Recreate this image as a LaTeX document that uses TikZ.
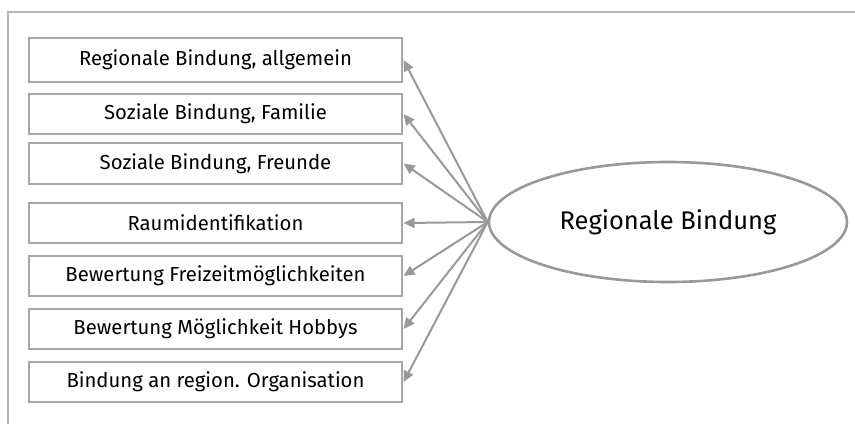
\documentclass[tikz,border=0pt]{standalone}
\usepackage{fontspec}
\setmainfont{Fira Sans}
\usetikzlibrary{arrows.meta,shapes.geometric}
\definecolor{framegray}{HTML}{B4B4B4}
\definecolor{boxgray}{HTML}{A6A6A6}
\definecolor{linkgray}{HTML}{999999}
\tikzset{
  itembox/.style={draw=boxgray, line width=1.1pt, minimum width=373pt, inner sep=0pt,
    font=\fontsize{20.3}{24}\selectfont, text=black},
  factor/.style={ellipse, draw=linkgray, line width=2.6pt, minimum width=358pt,
    minimum height=120pt, inner sep=0pt, font=\fontsize{25.5}{30}\selectfont},
  loading/.style={draw=linkgray, line width=2pt, -{Triangle[length=11pt, width=10pt]}},
}
\begin{document}
\begin{tikzpicture}[x=1pt, y=-1pt]
  \useasboundingbox (0,0) rectangle (855,424);
  % outer frame (only top and left edges fall inside the page)
  \draw[framegray, line width=1.5pt] (8,424) -- (8,12) -- (855,12);

  \node[itembox, minimum height=44pt] (b1) at (215.5,60)  {Regionale Bindung, allgemein};
  \node[itembox, minimum height=40pt] (b2) at (215.5,114) {Soziale Bindung, Familie};
  \node[itembox, minimum height=41pt] (b3) at (215.5,163.5) {Soziale Bindung, Freunde};
  \node[itembox, minimum height=40pt] (b4) at (215.5,223) {Raumidentifikation};
  \node[itembox, minimum height=40pt] (b5) at (215.5,276) {Bewertung Freizeitmöglichkeiten};
  \node[itembox, minimum height=40pt] (b6) at (215.5,329) {Bewertung Möglichkeit Hobbys};
  \node[itembox, minimum height=40pt] (b7) at (215.5,382) {Bindung an region. Organisation};

  \node[factor] (rb) at (668,222) {Regionale Bindung};

  \foreach \b in {b1,b2,b3,b4,b5,b6,b7}
    \draw[loading] (rb.west) -- ([xshift=1pt]\b.east);
\end{tikzpicture}
\end{document}
